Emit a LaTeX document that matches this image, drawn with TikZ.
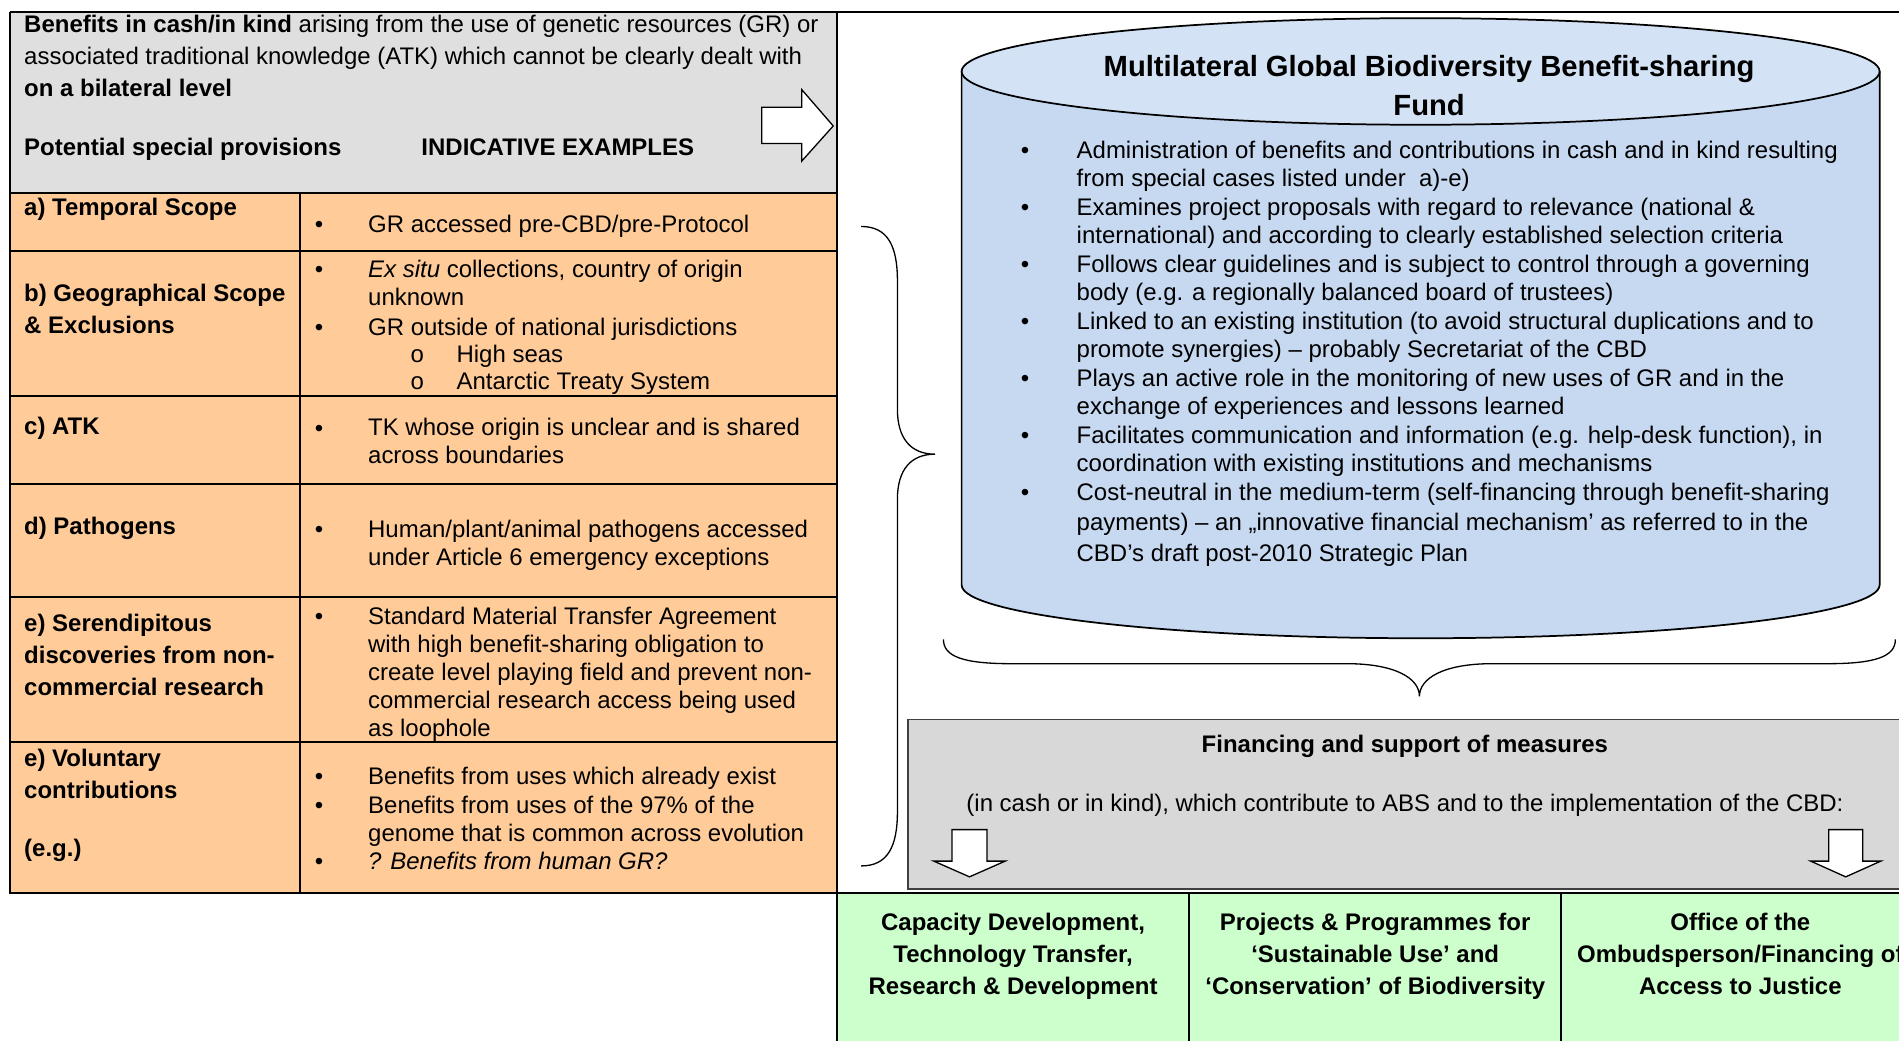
\documentclass[tikz,border=0pt]{standalone}
\usepackage{fontspec}
\setmainfont{Liberation Sans}
\definecolor{hdrgray}{RGB}{223,223,223}
\definecolor{rowor}{RGB}{255,204,153}
\definecolor{boxgray}{RGB}{216,216,216}
\definecolor{greenbox}{RGB}{204,255,204}
\definecolor{cylbody}{RGB}{198,217,241}
\definecolor{cyltop}{RGB}{211,226,244}
\begin{document}
\begin{tikzpicture}[x=0.5556pt,y=-0.5556pt,
  every node/.style={inner sep=0pt,outer sep=0pt},
  txt/.style={anchor=base west,align=left,font=\fontsize{11}{12.8}\selectfont},
  hdr/.style={anchor=base west,align=left,font=\fontsize{11}{14.7}\selectfont},
  lbl/.style={anchor=base west,align=left,font=\fontsize{11}{14.6}\selectfont\bfseries},
  bul/.style={anchor=base west,font=\fontsize{11}{12.8}\selectfont},
  grn/.style={anchor=base,align=center,font=\fontsize{11}{14.7}\selectfont\bfseries},
  tline/.style={line width=0.9pt},
  brace/.style={line width=0.6pt},
  blockarrow/.style={fill=white,draw=black,line width=0.6pt,line join=miter}
]
\useasboundingbox (0,0) rectangle (1568,859);
\clip (0,0) rectangle (1568,859);

% ---------- fills ----------
\fill[hdrgray] (8,10) rectangle (691,159);
\fill[rowor] (8,159) rectangle (691,737);
\fill[greenbox] (691,737) rectangle (1600,870);

% ---------- table lines ----------
\draw[tline] (8,10) -- (1600,10);
\draw[tline] (8,10) -- (8,737) -- (691,737);
\draw[tline] (691,10) -- (691,870);
\foreach \yy in {159,207,327,400,493,613} \draw[tline] (8,\yy) -- (691,\yy);
\draw[tline] (248,159) -- (248,737);
\draw[tline] (691,737) -- (1600,737);
\draw[tline] (982,737) -- (982,870);
\draw[tline] (1289,737) -- (1289,870);
\draw[tline] (1585,737) -- (1585,870);

% ---------- header ----------
\node[hdr] (h1) at (20,80) {\textbf{Benefits in cash/in kind} arising from the use of genetic resources (GR) or\\associated traditional knowledge (ATK) which cannot be clearly dealt with\\\textbf{on a bilateral level}};
\node[lbl] (h2) at (20,128) {Potential special provisions};
\node[lbl] (h3) at (348,128) {INDICATIVE EXAMPLES};
\draw[blockarrow] (629,88.5) -- (662,88.5) -- (662,74) -- (688,104) -- (662,133) -- (662,118.5) -- (629,118.5) -- cycle;

% ---------- row labels ----------
\node[lbl] (la) at (20,178) {a) Temporal Scope};
\node[lbl] (lb) at (20,275) {b) Geographical Scope\\\& Exclusions};
\node[lbl] (lc) at (20,359) {c) ATK};
\node[lbl] (ld) at (20,441) {d) Pathogens};
\node[lbl] (le) at (20,574) {e) Serendipitous\\discoveries from non-\\commercial research};
\node[lbl] (lf) at (20,659) {e) Voluntary\\contributions};
\node[lbl] (lg) at (20,707) {(e.g.)};

% ---------- row contents ----------
\node[bul] (ba1) at (260,192) {•};
\node[txt] (ta1) at (304,192) {GR accessed pre-CBD/pre-Protocol};
\node[bul] (bb1) at (260,229) {•};
\node[txt] (tb1) at (304,252) {\textit{Ex situ} collections, country of origin\\unknown};
\node[bul] (bb2) at (260,277) {•};
\node[txt] (tb2) at (304,277) {GR outside of national jurisdictions};
\node[bul] (bb3) at (339,299) {o};
\node[bul] (bb4) at (339,322) {o};
\node[txt] (tb3) at (377,322) {High seas\\Antarctic Treaty System};
\node[bul] (bc1) at (260,360) {•};
\node[txt] (tc1) at (304,383) {TK whose origin is unclear and is shared\\across boundaries};
\node[bul] (bd1) at (260,444) {•};
\node[txt] (td1) at (304,467) {Human/plant/animal pathogens accessed\\under Article 6 emergency exceptions};
\node[bul] (be1) at (260,516) {•};
\node[txt] (te1) at (304,608) {Standard Material Transfer Agreement\\with high benefit-sharing obligation to\\create level playing field and prevent non-\\commercial research access being used\\as loophole};
\node[bul] (bf1) at (260,648) {•};
\node[txt] (tf1) at (304,648) {Benefits from uses which already exist};
\node[bul] (bf2) at (260,672) {•};
\node[txt] (tf2) at (304,695) {Benefits from uses of the 97\% of the\\genome that is common across evolution};
\node[bul] (bf3) at (260,718) {•};
\node[txt] (tf3) at (304,718) {\textit{? Benefits from human GR?}};

% ---------- vertical brace ----------
\draw[brace] (711,187) .. controls (733,187) and (741,203) .. (741,232) -- (741,338)
  .. controls (741,362) and (752,375) .. (772,375)
  .. controls (752,375) and (741,388) .. (741,412) -- (741,670)
  .. controls (741,699) and (733,715) .. (711,715);

% ---------- cylinder ----------
\fill[cylbody] (794,59) -- (794,483) arc[start angle=180,end angle=0,x radius=379,y radius=44] -- (1552,59) -- cycle;
\draw[line width=0.8pt] (794,59) -- (794,483) arc[start angle=180,end angle=0,x radius=379,y radius=44] -- (1552,59);
\filldraw[fill=cyltop,line width=0.8pt] (1173,59) ellipse[x radius=379,y radius=44];
\node[anchor=base,align=center,font=\fontsize{13.4}{17.8}\selectfont\bfseries] (title) at (1180,95.5) {Multilateral Global Biodiversity Benefit-sharing\\Fund};

\node[bul] (c1b) at (843,131) {•};
\node[txt] (c1) at (889,154) {Administration of benefits and contributions in cash and in kind resulting\\from special cases listed under\ \ a)-e)};
\node[bul] (c2b) at (843,178) {•};
\node[txt] (c2) at (889,201) {Examines project proposals with regard to relevance (national \&\\international) and according to clearly established selection criteria};
\node[bul] (c3b) at (843,225) {•};
\node[txt] (c3) at (889,248) {Follows clear guidelines and is subject to control through a governing\\body (e.g. a regionally balanced board of trustees)};
\node[bul] (c4b) at (843,272) {•};
\node[txt] (c4) at (889,295) {Linked to an existing institution (to avoid structural duplications and to\\promote synergies) – probably Secretariat of the CBD};
\node[bul] (c5b) at (843,319) {•};
\node[txt] (c5) at (889,342) {Plays an active role in the monitoring of new uses of GR and in the\\exchange of experiences and lessons learned};
\node[bul] (c6b) at (843,366) {•};
\node[txt] (c6) at (889,389) {Facilitates communication and information (e.g. help-desk function), in\\coordination with existing institutions and mechanisms};
\node[bul] (c7b) at (843,413) {•};
\node[txt,font=\fontsize{11}{14}\selectfont] (c7) at (889,463.5) {Cost-neutral in the medium-term (self-financing through benefit-sharing\\payments) – an „innovative financial mechanism’ as referred to in the\\CBD’s draft post-2010 Strategic Plan};

% ---------- horizontal brace ----------
\draw[brace] (779,528) .. controls (779,542) and (795,548) .. (835,548) -- (1112,548)
  .. controls (1152,548) and (1172,560) .. (1172,575)
  .. controls (1172,560) and (1192,548) .. (1232,548) -- (1509,548)
  .. controls (1549,548) and (1565,542) .. (1565,528);

% ---------- gray box ----------
\filldraw[fill=boxgray,draw=black!75,line width=0.8pt] (750,594) rectangle (1600,734);
\node[anchor=base,font=\fontsize{11}{12.8}\selectfont\bfseries] (fin) at (1160,621) {Financing and support of measures};
\node[txt] (fin2) at (798,670) {(in cash or in kind), which contribute to ABS and to the implementation of the CBD:};
\draw[blockarrow] (786,685) -- (815,685) -- (815,711) -- (830,711) -- (800.5,724) -- (771,711) -- (786,711) -- cycle;
\draw[blockarrow] (1510,685) -- (1538,685) -- (1538,711) -- (1553,711) -- (1524,724) -- (1495,711) -- (1510,711) -- cycle;

% ---------- green boxes ----------
\node[grn] (g1) at (836.5,821) {Capacity Development,\\Technology Transfer,\\Research \& Development};
\node[grn] (g2) at (1135.5,821) {Projects \& Programmes for\\‘Sustainable Use’ and\\‘Conservation’ of Biodiversity};
\node[grn] (g3) at (1437,821) {Office of the\\Ombudsperson/Financing of\\Access to Justice};
\end{tikzpicture}
\end{document}
